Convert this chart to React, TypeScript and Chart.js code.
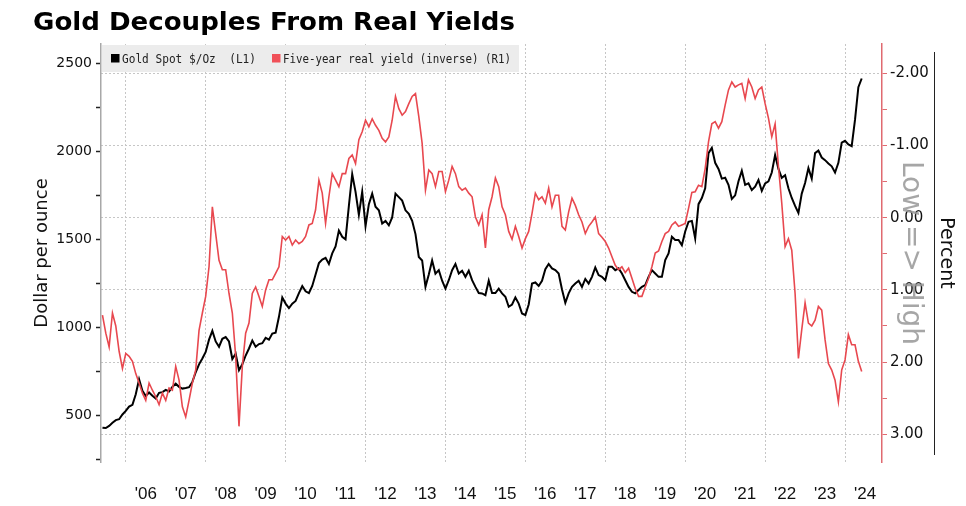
import { useEffect, useRef } from "react";
import { Chart, registerables } from "chart.js";
import type { ChartConfiguration, Plugin } from "chart.js";

Chart.register(...registerables);

const TITLE = "Gold Decouples From Real Yields";
const LEFT_TITLE = "Dollar per ounce";
const RIGHT_TITLE = "Percent";
const RIGHT_NOTE = "Low => High";
const GOLD_LABEL = "Gold Spot $/Oz  (L1)";
const YIELD_LABEL = "Five-year real yield (inverse) (R1)";

// one reading per month, the first one is June 2005
const FIRST_YEAR = 2005;
const FIRST_MONTH = 6;

const goldSpot = [
  430, 428, 440, 458, 473, 478, 505,
  525, 550, 560, 620, 705, 640, 610, 630, 612, 596, 628, 632,
  645, 636, 662, 680, 662, 652, 655, 660, 690, 745, 790, 823,
  860, 930, 980, 920, 890, 935, 945, 920, 820, 850, 757, 790,
  840, 880, 925, 890, 905, 910, 940, 930, 965, 970, 1060, 1170,
  1135, 1110, 1135, 1150, 1195, 1235, 1205, 1195, 1235, 1300, 1365, 1385,
  1395, 1360, 1420, 1460, 1550, 1515, 1500, 1690, 1870, 1770, 1640, 1770,
  1575, 1700, 1760, 1685, 1665, 1590, 1605, 1580, 1625, 1760, 1740, 1720,
  1665, 1645, 1605, 1530, 1400, 1380, 1230, 1300, 1380, 1305, 1325, 1265,
  1220, 1268, 1325, 1360, 1306, 1322, 1287, 1322, 1268, 1230, 1195, 1193,
  1183, 1265, 1195, 1195, 1220, 1193, 1174, 1117, 1130, 1170, 1135, 1079,
  1070, 1130, 1249, 1255, 1235, 1265, 1330, 1360, 1335, 1325, 1306, 1215,
  1140, 1193, 1230, 1249, 1265, 1230, 1275, 1249, 1287, 1340, 1297, 1287,
  1268, 1344, 1344, 1325, 1335, 1306, 1268, 1230, 1202, 1193, 1212, 1230,
  1240, 1287, 1325, 1306, 1287, 1287, 1382, 1420, 1515, 1496, 1496, 1467,
  1545, 1600, 1605, 1505, 1700, 1735, 1790, 1990, 2020, 1935, 1900, 1845,
  1850, 1810, 1730, 1750, 1830, 1890, 1810, 1818, 1780, 1799, 1837, 1775,
  1818, 1830, 1880, 1979, 1900, 1850, 1865, 1790, 1735, 1690, 1650, 1760,
  1820, 1905, 1845, 1990, 2005, 1965, 1950, 1931, 1915, 1880, 1935, 2050,
  2060, 2040, 2030, 2180, 2365, 2414,
];

const realYield = [
  1.35, 1.6, 1.79, 1.32, 1.5, 1.85, 2.09,
  1.88, 1.92, 1.99, 2.16, 2.29, 2.43, 2.53, 2.29, 2.39, 2.48, 2.59, 2.43,
  2.53, 2.36, 2.39, 2.06, 2.25, 2.62, 2.76, 2.53, 2.29, 2.11, 1.56, 1.32,
  1.09, 0.68, -0.15, 0.22, 0.59, 0.72, 0.72, 1.05, 1.32, 1.92, 2.89, 2.06,
  1.6, 1.46, 1.05, 0.96, 1.09, 1.23, 1.0, 0.86, 0.86, 0.77, 0.68, 0.26,
  0.31, 0.26, 0.38, 0.31, 0.36, 0.33, 0.26, 0.1, 0.08, -0.11, -0.52, -0.34,
  0.08, -0.29, -0.61, -0.52, -0.43, -0.61, -0.61, -0.82, -0.87, -0.75, -1.08, -1.19,
  -1.35, -1.26, -1.37, -1.28, -1.21, -1.1, -1.05, -1.12, -1.35, -1.68, -1.51, -1.42,
  -1.47, -1.58, -1.68, -1.72, -1.4, -1.03, -0.38, -0.66, -0.61, -0.43, -0.64, -0.64,
  -0.36, -0.52, -0.71, -0.61, -0.43, -0.38, -0.41, -0.34, -0.29, -0.01, 0.1, -0.04,
  0.42, -0.11, -0.29, -0.55, -0.43, -0.15, -0.04, 0.19, 0.3, 0.12, 0.26, 0.42,
  0.29, 0.19, -0.06, -0.34, -0.25, -0.29, -0.2, -0.41, -0.15, -0.31, -0.31, 0.12,
  0.17, -0.08, -0.27, -0.17, -0.04, 0.06, 0.22, 0.12, 0.06, -0.01, 0.22, 0.27,
  0.33, 0.42, 0.54, 0.66, 0.72, 0.68, 0.76, 0.7, 0.84, 0.98, 1.09, 1.09,
  0.96, 0.84, 0.68, 0.49, 0.46, 0.33, 0.22, 0.19, 0.1, 0.06, 0.12, 0.1,
  0.08, -0.13, -0.35, -0.36, -0.45, -0.43, -0.68, -1.05, -1.3, -1.33, -1.24, -1.33,
  -1.56, -1.77, -1.88, -1.81, -1.84, -1.86, -1.65, -1.91, -1.81, -1.65, -1.77, -1.81,
  -1.58, -1.38, -1.12, -1.3, -0.71, -0.2, 0.4, 0.29, 0.45, 1.05, 1.95, 1.55,
  1.18, 1.46, 1.5, 1.42, 1.23, 1.28, 1.69, 2.02, 2.11, 2.25, 2.55, 2.11,
  1.97, 1.62, 1.76, 1.76, 1.99, 2.13,
];

const LABEL_FIRST_YEAR = 2006;
const yearLabels = [
  "'06", "'07", "'08", "'09", "'10", "'11", "'12", "'13", "'14", "'15",
  "'16", "'17", "'18", "'19", "'20", "'21", "'22", "'23", "'24",
];
const goldTicks = [250, 500, 750, 1000, 1250, 1500, 1750, 2000, 2250, 2500];
const yieldTicks = [-2, -1.5, -1, -0.5, 0, 0.5, 1, 1.5, 2, 2.5, 3];

const RED = "#e8484f";
const GRID = "#c6c6c6";

// draw text squeezed to a given width
function fitText(ctx: CanvasRenderingContext2D, text: string, x: number, y: number, w: number) {
  const m = ctx.measureText(text).width;
  ctx.save();
  ctx.translate(x, y);
  ctx.scale(w / m, 1);
  ctx.fillText(text, 0, 0);
  ctx.restore();
}

const decor: Plugin<"line"> = {
  id: "decor",
  beforeDraw(chart) {
    const { ctx, width, height } = chart;
    ctx.save();
    ctx.fillStyle = "#fff";
    ctx.fillRect(0, 0, width, height);
    ctx.restore();
  },
  afterDraw(chart) {
    const { ctx, chartArea: a } = chart;
    ctx.save();

    // title
    ctx.fillStyle = "#000";
    ctx.font = "bold 25.5px 'DejaVu Sans'";
    ctx.textBaseline = "alphabetic";
    ctx.textAlign = "left";
    fitText(ctx, TITLE, 33, 29.5, 482);

    // legend strip
    ctx.fillStyle = "#ececec";
    ctx.fillRect(a.left + 1, a.top + 1, 417, 27);
    ctx.fillStyle = "#000";
    ctx.fillRect(111, 54, 8.5, 8.5);
    ctx.fillStyle = "#f05058";
    ctx.fillRect(272, 54, 8.5, 8.5);
    ctx.fillStyle = "#222";
    ctx.font = "12.5px 'DejaVu Sans Mono'";
    ctx.textBaseline = "alphabetic";
    fitText(ctx, GOLD_LABEL, 122, 62.5, 134);
    fitText(ctx, YIELD_LABEL, 283, 62.5, 228);

    const midY = (a.top + a.bottom) / 2;

    // left axis title
    ctx.save();
    ctx.translate(42, midY);
    ctx.rotate(-Math.PI / 2);
    ctx.textAlign = "center";
    ctx.textBaseline = "middle";
    ctx.fillStyle = "#111";
    ctx.font = "18px 'DejaVu Sans'";
    ctx.fillText(LEFT_TITLE, 0, 0);
    ctx.restore();

    // grey note over the right axis
    ctx.save();
    ctx.translate(910, midY);
    ctx.rotate(Math.PI / 2);
    ctx.textAlign = "center";
    ctx.textBaseline = "middle";
    ctx.fillStyle = "rgba(150,150,150,0.85)";
    ctx.font = "28px 'DejaVu Sans'";
    ctx.fillText(RIGHT_NOTE, 0, 0);
    ctx.restore();

    // right axis title with its rule
    ctx.strokeStyle = "#222";
    ctx.lineWidth = 1;
    ctx.beginPath();
    ctx.moveTo(934.5, 52);
    ctx.lineTo(934.5, 455);
    ctx.stroke();
    ctx.save();
    ctx.translate(946, midY);
    ctx.rotate(Math.PI / 2);
    ctx.textAlign = "center";
    ctx.textBaseline = "middle";
    ctx.fillStyle = "#111";
    ctx.font = "19px 'DejaVu Sans'";
    ctx.fillText(RIGHT_TITLE, 0, 0);
    ctx.restore();

    ctx.restore();
  },
};

export default function App() {
  const canvasRef = useRef<HTMLCanvasElement>(null);
  const chartRef = useRef<Chart | null>(null);

  useEffect(() => {
    if (!canvasRef.current) return;
    if (chartRef.current) chartRef.current.destroy();

    const monthX = goldSpot.map((_, i) => FIRST_YEAR + (FIRST_MONTH - 1 + i) / 12);

    const xTicks: number[] = [];
    yearLabels.forEach((_, i) => {
      const yr = LABEL_FIRST_YEAR + i;
      if (yr % 2 === 0) xTicks.push(yr);
      xTicks.push(yr + 0.5);
    });

    const dashedAtWhole = (ctx: any) =>
      ctx.tick && Number.isInteger(ctx.tick.value) ? GRID : "rgba(0,0,0,0)";

    const config: ChartConfiguration<"line"> = {
      type: "line",
      data: {
        datasets: [
          {
            label: GOLD_LABEL,
            data: monthX.map((x, i) => ({ x, y: goldSpot[i] })),
            yAxisID: "yGold",
            borderColor: "#000",
            borderWidth: 2,
            pointRadius: 0,
            tension: 0,
            order: 1,
          },
          {
            label: YIELD_LABEL,
            data: monthX.map((x, i) => ({ x, y: realYield[i] })),
            yAxisID: "yYield",
            borderColor: RED,
            borderWidth: 1.6,
            pointRadius: 0,
            tension: 0,
            order: 0,
          },
        ],
      },
      options: {
        animation: false,
        responsive: true,
        maintainAspectRatio: false,
        events: [],
        layout: { padding: { top: 44, left: 0, right: 0, bottom: 0 } },
        plugins: {
          legend: { display: false },
          tooltip: { enabled: false },
        },
        scales: {
          x: {
            type: "linear",
            min: 2005.38,
            max: 2024.925,
            afterBuildTicks: (s) => {
              s.ticks = xTicks.map((value) => ({ value }));
            },
            afterFit: (s) => {
              s.height = 44;
            },
            grid: { color: dashedAtWhole, drawTicks: false, lineWidth: 1 },
            border: { display: false, dash: [2, 2] },
            ticks: {
              autoSkip: false,
              maxRotation: 0,
              padding: 22,
              color: "#111",
              font: { family: "'Liberation Sans'", size: 17 },
              callback: (v) => {
                const n = Number(v);
                return Number.isInteger(n) ? "" : yearLabels[Math.floor(n) - LABEL_FIRST_YEAR];
              },
            },
          },
          yGold: {
            type: "linear",
            position: "left",
            min: 235,
            max: 2610,
            afterBuildTicks: (s) => {
              s.ticks = goldTicks.map((value) => ({ value }));
            },
            afterFit: (s) => {
              s.width = 101;
            },
            grid: { drawOnChartArea: false, tickLength: 5, tickColor: "#222", tickWidth: 1.5 },
            border: { color: "#a8a8a8", width: 1.5 },
            ticks: {
              padding: 4,
              color: "#111",
              font: { family: "'DejaVu Sans'", size: 14 },
              callback: (v) => (Number(v) % 500 === 0 ? String(v) : ""),
            },
          },
          yYield: {
            type: "linear",
            position: "right",
            reverse: true,
            min: -2.406,
            max: 3.384,
            afterBuildTicks: (s) => {
              s.ticks = yieldTicks.map((value) => ({ value }));
            },
            afterFit: (s) => {
              s.width = 84;
            },
            grid: { color: dashedAtWhole, tickColor: "#e06a70", tickLength: 5, lineWidth: 1 },
            border: { color: "#e06a70", width: 1.5, dash: [2, 2] },
            ticks: {
              padding: 3,
              color: "#111",
              font: { family: "'DejaVu Sans'", size: 15 },
              callback: (v) => (Number.isInteger(Number(v)) ? Number(v).toFixed(2) : ""),
            },
          },
        },
      },
      plugins: [decor],
    };

    chartRef.current = new Chart(canvasRef.current, config);

    return () => {
      if (chartRef.current) {
        chartRef.current.destroy();
        chartRef.current = null;
      }
    };
  }, []);

  return (
    <div style={{ position: "fixed", left: 0, top: 0, width: 966, height: 506, background: "#fff" }}>
      <canvas ref={canvasRef} />
    </div>
  );
}
